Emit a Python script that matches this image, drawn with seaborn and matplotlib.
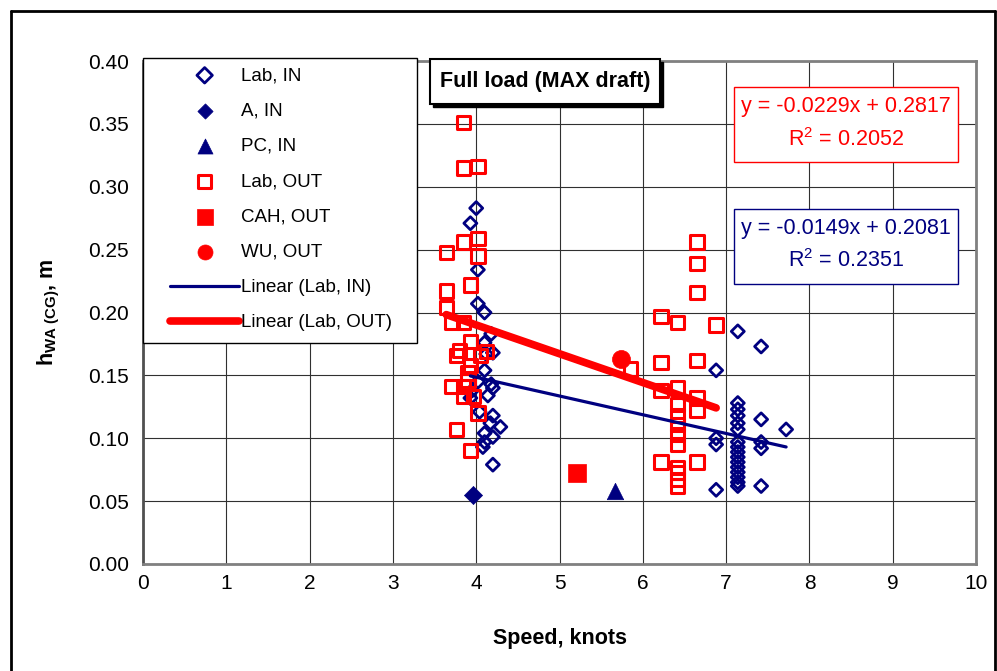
import matplotlib
matplotlib.use("Agg")
import matplotlib.pyplot as plt
from matplotlib.patches import Rectangle
from matplotlib.lines import Line2D
import numpy as np
import pandas as pd
import seaborn as sns

# ---------------- data ----------------
lab_in_x = [4.00, 3.93, 4.02, 4.02, 4.10, 4.18, 4.10, 4.20, 4.12, 4.10, 4.02, 4.18, 4.20,
            3.95, 4.14, 3.93, 4.04, 4.20, 4.17, 4.29, 4.10, 4.20, 4.10, 4.08, 4.20,
            7.14, 7.42, 6.88, 7.14, 7.14, 7.14, 7.14, 7.14, 7.14, 7.14, 7.14, 7.14, 7.14,
            7.14, 7.14, 7.14, 7.14, 7.14, 7.42, 7.42, 7.42, 7.42, 7.72, 6.88, 6.88, 6.88]
lab_in_y = [0.283, 0.271, 0.234, 0.207, 0.200, 0.183, 0.176, 0.168, 0.167, 0.154, 0.145, 0.143, 0.140,
            0.138, 0.134, 0.132, 0.121, 0.118, 0.112, 0.109, 0.104, 0.101, 0.097, 0.093, 0.079,
            0.185, 0.173, 0.154, 0.128, 0.123, 0.118, 0.112, 0.107, 0.097, 0.093, 0.089, 0.085, 0.081,
            0.077, 0.073, 0.069, 0.065, 0.062, 0.115, 0.097, 0.092, 0.062, 0.107, 0.100, 0.095, 0.059]

a_in_x = [3.96]
a_in_y = [0.055]

pc_in_x = [5.67]
pc_in_y = [0.058]

lab_out_x = [3.85, 3.85, 4.02, 3.64, 3.85, 4.02, 4.02, 3.93, 3.64, 3.64, 3.71, 3.85, 3.93,
             3.80, 3.76, 4.12, 4.05, 3.93, 3.90, 3.71, 3.85, 3.90, 3.85, 3.97, 4.02, 3.76, 3.93,
             6.65, 6.65, 6.65, 6.22, 6.42, 6.88, 6.22, 6.65, 5.85, 6.22, 6.42, 6.42, 6.65, 6.65,
             6.42, 6.42, 6.42, 6.42, 6.22, 6.65, 6.42, 6.42, 6.42, 6.42]
lab_out_y = [0.351, 0.315, 0.316, 0.248, 0.256, 0.259, 0.245, 0.222, 0.217, 0.204, 0.192, 0.192, 0.177,
             0.170, 0.166, 0.169, 0.166, 0.158, 0.152, 0.141, 0.141, 0.146, 0.133, 0.133, 0.120, 0.107, 0.090,
             0.256, 0.239, 0.216, 0.197, 0.192, 0.190, 0.160, 0.162, 0.155, 0.138, 0.140, 0.127, 0.132, 0.122,
             0.118, 0.111, 0.103, 0.095, 0.081, 0.081, 0.077, 0.073, 0.067, 0.062]

cah_out_x = [5.21]
cah_out_y = [0.072]

wu_out_x = [5.74]
wu_out_y = [0.163]

# trend line coefficients (as printed on the chart)
in_slope, in_intercept, in_r2 = -0.0149, 0.2081, 0.2351
out_slope, out_intercept, out_r2 = -0.0229, 0.2817, 0.2052

x_ticks = list(range(0, 11))
y_ticks = [0.00, 0.05, 0.10, 0.15, 0.20, 0.25, 0.30, 0.35, 0.40]

NAVY = "#000080"
RED = "#FF0000"

# ---------------- style ----------------
sns.set_theme(style="white")
plt.rcParams["font.family"] = ["Liberation Sans", "DejaVu Sans"]
plt.rcParams["mathtext.fontset"] = "custom"
plt.rcParams["mathtext.rm"] = "Liberation Sans"
plt.rcParams["mathtext.it"] = "Liberation Sans:italic"
plt.rcParams["mathtext.bf"] = "Liberation Sans:bold"

fig, ax = plt.subplots(figsize=(9.97, 6.71), dpi=100)
fig.subplots_adjust(left=0.1434, right=0.979, bottom=0.1595, top=0.909)

# ---------------- scatter series ----------------
sns.scatterplot(x=lab_in_x, y=lab_in_y, marker="D", s=44, color=NAVY, facecolor="none",
                edgecolor=NAVY, linewidth=2.0, ax=ax, label="Lab, IN", zorder=3)
sns.scatterplot(x=a_in_x, y=a_in_y, marker="D", s=85, color=NAVY, edgecolor=NAVY,
                linewidth=0.5, ax=ax, label="A, IN", zorder=3)
sns.scatterplot(x=pc_in_x, y=pc_in_y, marker="^", s=140, color=NAVY, edgecolor=NAVY,
                linewidth=0.5, ax=ax, label="PC, IN", zorder=3)
sns.scatterplot(x=lab_out_x, y=lab_out_y, marker="s", s=92, color=RED, facecolor="none",
                edgecolor=RED, linewidth=2.2, ax=ax, label="Lab, OUT", zorder=3)
sns.scatterplot(x=cah_out_x, y=cah_out_y, marker="s", s=150, color=RED, edgecolor=RED,
                linewidth=0.5, ax=ax, label="CAH, OUT", zorder=3)
sns.scatterplot(x=wu_out_x, y=wu_out_y, marker="o", s=169, color=RED, edgecolor=RED,
                linewidth=0.5, ax=ax, label="WU, OUT", zorder=3)

# ---------------- trend lines ----------------
xin = np.array([min(lab_in_x), max(lab_in_x)])
xout = np.array([min(lab_out_x), max(lab_out_x)])
sns.lineplot(x=xin, y=in_intercept + in_slope * xin, color=NAVY, linewidth=2.3,
             ax=ax, label="Linear (Lab, IN)", zorder=4)
sns.lineplot(x=xout, y=out_intercept + out_slope * xout, color=RED, linewidth=5.5,
             ax=ax, label="Linear (Lab, OUT)", zorder=4, solid_capstyle="round")

# ---------------- axes ----------------
ax.set_xlim(0, 10)
ax.set_ylim(0, 0.40)
ax.set_xticks(x_ticks)
ax.set_yticks(y_ticks)
ax.set_xticklabels([str(t) for t in x_ticks])
ax.set_yticklabels([f"{t:.2f}" for t in y_ticks])
ax.tick_params(axis="both", which="both", direction="out", length=4, width=1,
               color="black", labelsize=15, labelcolor="black")
ax.tick_params(axis="y", pad=6)
ax.tick_params(axis="x", pad=3)
ax.grid(True, color="#303030", linewidth=0.8)
ax.set_axisbelow(True)
for side in ["top", "right", "bottom", "left"]:
    ax.spines[side].set_color("#808080")
    ax.spines[side].set_linewidth(2)
ax.spines["left"].set_color("#505050")

ax.set_xlabel("Speed, knots", fontsize=15.5, fontweight="bold", color="black")
ax.set_ylabel(r"$\mathbf{h_{WA\ (CG)}}$, m", fontsize=15.5, fontweight="bold", color="black")
ax.xaxis.set_label_coords(0.5, -0.127)
ax.yaxis.set_label_coords(-0.097, 0.5)

# ---------------- legend ----------------
handles, labels = ax.get_legend_handles_labels()
if ax.get_legend() is not None:
    ax.get_legend().remove()
ax.add_patch(Rectangle((0.0, 0.439), 0.329, 1.006 - 0.439, transform=ax.transAxes,
                       facecolor="white", edgecolor="black", linewidth=1.0,
                       clip_on=False, zorder=6))
leg = ax.legend(handles, labels, loc="upper left", bbox_to_anchor=(0.0324, 0.988),
                frameon=False, fontsize=13.5, handlelength=3.7, handletextpad=0.1,
                labelspacing=0.97, borderpad=0, borderaxespad=0)
leg.set_zorder(7)
legend_marker_sizes = [62, 60, 117, 92, 117, 117]
for h, sz in zip(leg.legend_handles[:6], legend_marker_sizes):
    h.set_sizes([sz])
for t in leg.get_texts():
    t.set_color("black")

# ---------------- title box ----------------
ax.add_patch(Rectangle((0.3445 + 0.004, 0.9145 - 0.006), 0.2761, 1.004 - 0.9145,
                       transform=ax.transAxes, facecolor="black", edgecolor="black",
                       linewidth=1, clip_on=False, zorder=6))
ax.add_patch(Rectangle((0.3445, 0.9145), 0.2761, 1.004 - 0.9145, transform=ax.transAxes,
                       facecolor="white", edgecolor="black", linewidth=1.5,
                       clip_on=False, zorder=6))
ax.text(0.4826, 0.959, "Full load (MAX draft)", transform=ax.transAxes, ha="center",
        va="center", fontsize=15.5, fontweight="bold", color="black", zorder=7)

# ---------------- equation boxes ----------------
ax.add_patch(Rectangle((0.7095, 0.799), 0.2685, 0.149, transform=ax.transAxes,
                       facecolor="white", edgecolor=RED, linewidth=1.0, zorder=6))
ax.text(0.844, 0.909, f"y = {out_slope:.4f}x + {out_intercept:.4f}", transform=ax.transAxes,
        ha="center", va="center", fontsize=15.5, color=RED, zorder=7)
ax.text(0.844, 0.843, f"R$^2$ = {out_r2:.4f}", transform=ax.transAxes,
        ha="center", va="center", fontsize=15.5, color=RED, zorder=7)

ax.add_patch(Rectangle((0.7095, 0.557), 0.2685, 0.149, transform=ax.transAxes,
                       facecolor="white", edgecolor=NAVY, linewidth=1.0, zorder=6))
ax.text(0.844, 0.668, f"y = {in_slope:.4f}x + {in_intercept:.4f}", transform=ax.transAxes,
        ha="center", va="center", fontsize=15.5, color=NAVY, zorder=7)
ax.text(0.844, 0.604, f"R$^2$ = {in_r2:.4f}", transform=ax.transAxes,
        ha="center", va="center", fontsize=15.5, color=NAVY, zorder=7)

# ---------------- outer chart border ----------------
fx0, fy1, fx1 = 11 / 997, 1 - 11 / 671, 995 / 997
fig.add_artist(Line2D([fx0, fx1], [fy1, fy1], color="black", linewidth=2, transform=fig.transFigure))
fig.add_artist(Line2D([fx0, fx0], [0, fy1], color="black", linewidth=2, transform=fig.transFigure))
fig.add_artist(Line2D([fx1, fx1], [0, fy1], color="black", linewidth=2, transform=fig.transFigure))

fig.savefig("out.png", dpi=100, facecolor="white")
